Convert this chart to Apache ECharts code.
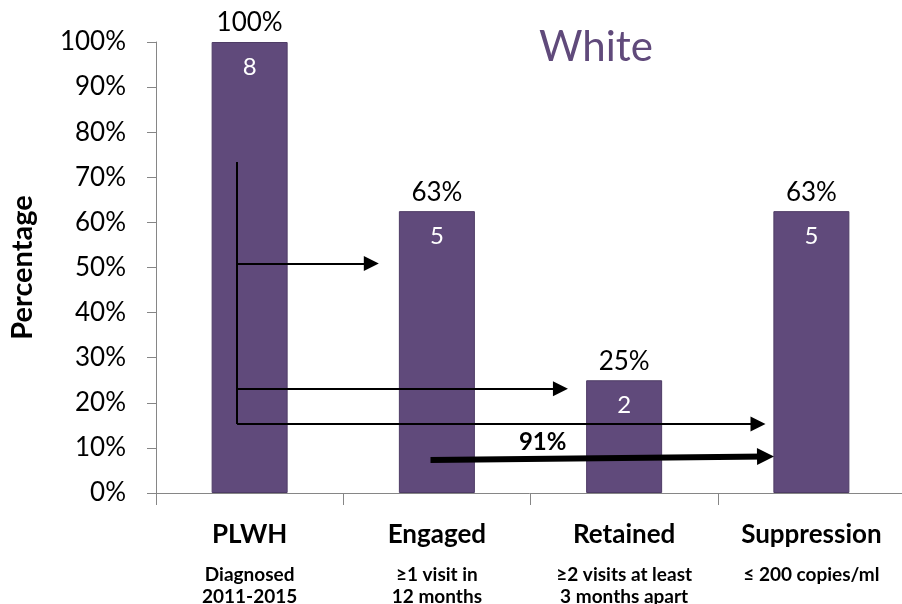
<!DOCTYPE html>
<html><head><meta charset="utf-8">
<script src="https://cdn.jsdelivr.net/npm/echarts@6/dist/echarts.min.js"></script>
<style>html,body{margin:0;padding:0;background:#fff}#c{width:902px;height:604px}</style>
</head><body><div id="c"></div>
<script>
// ---- data ----
const categories = ['PLWH', 'Engaged', 'Retained', 'Suppression'];
const subtitles = [['Diagnosed', '2011-2015'], ['≥1 visit in', '12 months'], ['≥2 visits at least', '3 months apart'], ['≤ 200 copies/ml']];
const percents = [100, 62.5, 25, 62.5];
const percentLabels = ['100%', '63%', '25%', '63%'];
const counts = [8, 5, 2, 5];
const yTicks = [0, 10, 20, 30, 40, 50, 60, 70, 80, 90, 100];
// arrow annotations in (category-position, percent) space
const bracketLine = [[0.433, 73.4], [0.433, 15.3]];
const thinArrows = [
  [[0.433, 50.9], [1.15, 50.9]],
  [[0.433, 23.1], [2.16, 23.1]],
  [[0.433, 15.3], [3.215, 15.3]]
];
const thickArrow = [[1.466, 7.3], [3.255, 8.1]];
const arrowLabel = { text: '91%', pos: [2.065, 11.2] };

const FONT = 'Lato';
const chart = echarts.init(document.getElementById('c'));

const markData = [];
markData.push([{ coord: bracketLine[0], symbol: 'none' }, { coord: bracketLine[1], symbol: 'none' }]);
thinArrows.forEach(a => markData.push([{ coord: a[0], symbol: 'none' }, { coord: a[1], symbol: 'triangle', symbolSize: [15, 15] }]));
markData.push([
  { coord: thickArrow[0], symbol: 'none', lineStyle: { width: 6 } },
  { coord: thickArrow[1], symbol: 'triangle', symbolSize: [17, 17] }
]);

chart.setOption({
  animation: false,
  title: {
    text: 'White', left: 591, top: 21, textAlign: 'center',
    textStyle: { fontFamily: FONT, fontSize: 42, fontWeight: 'normal', color: '#604A7B' }
  },
  grid: { left: 156, top: 42, width: 749, bottom: 111, containLabel: false, outerBoundsMode: 'none' },
  xAxis: [{
    type: 'category', data: categories,
    axisLine: { lineStyle: { color: '#868686', width: 1 } },
    axisTick: { show: true, length: 12, lineStyle: { color: '#868686' } },
    axisLabel: {
      interval: 0, margin: 13,
      formatter: (v, i) => '{a|' + v + '}\n' + subtitles[i].map(s => '{b|' + s + '}').join('\n'),
      rich: {
        a: { fontFamily: FONT, fontSize: 26, fontWeight: 'bold', color: '#000', lineHeight: 58 },
        b: { fontFamily: FONT, fontSize: 19, fontWeight: 'bold', color: '#000', lineHeight: 22 }
      }
    }
  }, {
    type: 'value', min: 0, max: 4, show: false
  }],
  yAxis: {
    type: 'value', min: 0, max: 100, interval: 10,
    name: 'Percentage', nameLocation: 'middle', nameGap: 119, nameRotate: 90,
    nameTextStyle: { fontFamily: FONT, fontSize: 29, fontWeight: 'bold', color: '#000' },
    axisLine: { show: true, lineStyle: { color: '#868686', width: 1 } },
    axisTick: { show: true, length: 9, lineStyle: { color: '#868686' } },
    splitLine: { show: false },
    axisLabel: { formatter: v => yTicks.includes(v) ? v + '%' : '', margin: 30, fontFamily: FONT, fontSize: 26, color: '#000' }
  },
  series: [{
    type: 'bar', data: percents, barWidth: 76,
    itemStyle: { color: '#604A7B', borderColor: '#4E3C66', borderWidth: 1 },
    label: {
      show: true, position: 'top', distance: 6,
      formatter: p => percentLabels[p.dataIndex],
      fontFamily: FONT, fontSize: 26, color: '#000'
    }
  }, {
    type: 'bar', data: percents, barWidth: 76, barGap: '-100%', z: 3,
    itemStyle: { color: 'transparent' },
    label: {
      show: true, position: 'insideTop', distance: 13,
      formatter: p => String(counts[p.dataIndex]),
      fontFamily: FONT, fontSize: 24, color: '#fff'
    }
  }, {
    type: 'line', xAxisIndex: 1, yAxisIndex: 0, data: [], z: 5,
    markLine: {
      silent: true, animation: false,
      label: { show: false },
      lineStyle: { color: '#000', width: 2, type: 'solid' },
      emphasis: { disabled: true },
      data: markData
    },
    markPoint: {
      silent: true,
      symbol: 'rect', symbolSize: 1, itemStyle: { color: 'transparent' },
      label: { show: true, position: 'inside', formatter: arrowLabel.text, fontFamily: FONT, fontSize: 24, fontWeight: 'bold', color: '#000' },
      data: [{ coord: arrowLabel.pos }]
    }
  }]
});
</script></body></html>
